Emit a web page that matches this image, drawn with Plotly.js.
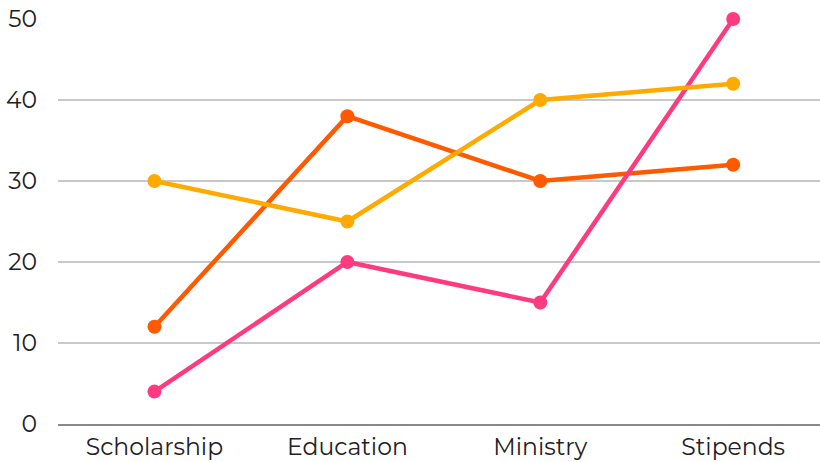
<!DOCTYPE html>
<html><head><meta charset="utf-8">
<script src="https://cdn.plot.ly/plotly-3.0.1.min.js"></script>
<style>html,body{margin:0;padding:0;background:#fff}#chart{width:820px;height:462px}</style>
</head><body><div id="chart"></div>
<script>
var categories = ["Scholarship", "Education", "Ministry", "Stipends"];
var seriesRed = [12, 38, 30, 32];
var seriesPink = [4, 20, 15, 50];
var seriesAmber = [30, 25, 40, 42];
var yTicks = [0, 10, 20, 30, 40, 50];

function tr(y, color, name) {
  return {x: categories, y: y, type: "scatter", mode: "lines+markers", name: name,
    line: {color: color, width: 4.5}, marker: {color: color, size: 14}, cliponaxis: false};
}
var data = [tr(seriesRed, "#FF5A00", "A"), tr(seriesPink, "#FF3B80", "B"), tr(seriesAmber, "#FFAA00", "C")];
var layout = {
  width: 820, height: 462,
  margin: {l: 58, r: 0, t: 19, b: 38},
  showlegend: false,
  paper_bgcolor: "#fff", plot_bgcolor: "#fff",
  font: {family: "Montserrat, 'DejaVu Sans', sans-serif", size: 23.5, color: "#222"},
  xaxis: {range: [-0.5, 3.45], showgrid: false, zeroline: false, showline: true, linecolor: "#888", linewidth: 1.5,
    ticks: "", ticklabelstandoff: 1, tickfont: {size: 23.5}},
  yaxis: {range: [0, 50], tickvals: yTicks, showgrid: true, gridcolor: "#c8c8c8", gridwidth: 1.3, zeroline: false,
    showline: false, ticks: "", ticklabelstandoff: 20, tickfont: {size: 23.5}}
};
Plotly.newPlot("chart", data, layout, {displayModeBar: false, staticPlot: true});
</script></body></html>
